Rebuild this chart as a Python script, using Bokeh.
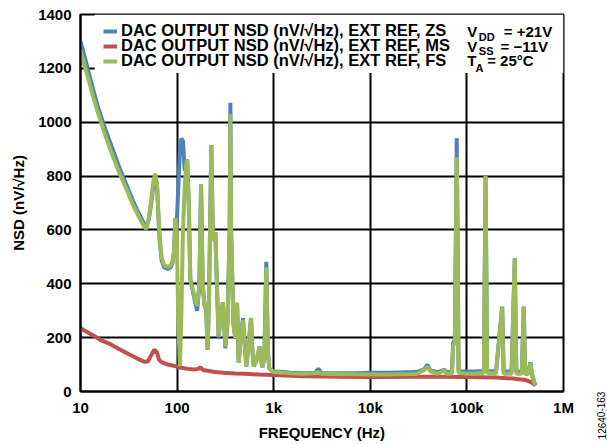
from bokeh.plotting import figure
from bokeh.models import FixedTicker, Legend, LegendItem, Label
from bokeh.embed import file_html
from bokeh.resources import INLINE

# ---------------- data ----------------
freq_hz = [10, 11, 12, 13.5, 15, 17.5, 20, 25, 30, 35, 40, 45, 48, 51, 54, 57, 59.5, 62, 64, 66,
           69, 73, 80, 86, 90, 93, 96, 99, 103, 107, 111, 115, 120, 124, 127, 132, 137, 148, 161, 170,
           177, 184, 192, 200, 207, 214, 226, 235, 249, 258, 269, 282, 298, 316, 332, 350, 356, 362, 383, 400,
           418, 434, 455, 481, 500, 521, 550, 583, 600, 621, 670, 716, 760, 800, 838, 870, 900, 1000, 1200, 1500,
           2000, 2700, 2900, 3100, 5000, 7000, 10000, 15000, 20000, 30000, 36000, 39000, 42000, 50000, 58000, 62000, 70000, 72000, 75000, 77000,
           78500, 80000, 82000, 100000, 120000, 150000, 156000, 162000, 200000, 232000, 240000, 290000, 313000, 325000, 370000, 388000, 400000, 430000, 455000, 475000,
           500000, 515000]

nsd_zs = [1300, 1245, 1192, 1122, 1062, 988, 930, 836, 766, 707, 662, 627, 610, 640, 700, 768, 798, 760, 655, 562,
          490, 462, 455, 462, 480, 520, 640, 620, 760, 900, 940, 930, 820, 840, 862, 700, 420, 360, 300, 390,
          770, 400, 320, 305, 155, 350, 915, 560, 590, 400, 200, 280, 330, 160, 250, 600, 1072, 600, 250, 200,
          329, 106, 200, 272, 180, 93, 180, 273, 160, 93, 120, 167, 90, 120, 482, 150, 85, 74, 73, 70,
          68, 70, 85, 68, 68, 68, 70, 70, 71, 72, 82, 100, 78, 72, 80, 72, 72, 180, 190, 600,
          940, 600, 74, 74, 74, 76, 800, 76, 74, 315, 74, 74, 495, 74, 72, 315, 72, 70, 108, 60,
          32, 28]

nsd_fs = [1268, 1212, 1163, 1096, 1040, 966, 906, 815, 750, 692, 650, 616, 603, 642, 712, 785, 808, 772, 665, 572,
          500, 470, 462, 470, 486, 526, 645, 600, 250, 93, 300, 600, 760, 840, 860, 700, 414, 366, 318, 400,
          770, 400, 322, 306, 155, 350, 915, 560, 590, 400, 204, 280, 330, 167, 250, 600, 1030, 600, 250, 200,
          329, 106, 200, 266, 180, 93, 180, 273, 160, 93, 120, 167, 90, 120, 460, 150, 85, 72, 71, 68,
          66, 68, 72, 66, 64, 64, 63, 63, 64, 65, 80, 92, 75, 66, 78, 66, 66, 170, 180, 600,
          870, 600, 70, 66, 66, 70, 800, 70, 66, 315, 66, 66, 495, 66, 66, 315, 66, 64, 105, 60,
          30, 26]

freq_ms = [10, 13, 16, 20, 25, 30, 40, 46, 50, 54, 58, 62, 65, 70, 80, 100, 110, 130, 150, 165,
           174, 185, 200, 250, 300, 400, 500, 700, 1000, 2000, 5000, 10000, 30000, 50000, 100000, 200000, 300000, 400000, 460000, 500000,
           515000]
nsd_ms = [235, 212, 192, 177, 158, 143, 120, 110, 112, 135, 155, 145, 118, 108, 100, 93, 88, 84, 82, 84,
          90, 80, 78, 72, 70, 67, 66, 63, 61, 57, 55, 54, 55, 55, 54, 52, 48, 43, 35, 27,
          22]

series_labels = ["DAC OUTPUT NSD (nV/\u221aHz), EXT REF, ZS",
                 "DAC OUTPUT NSD (nV/\u221aHz), EXT REF, MS",
                 "DAC OUTPUT NSD (nV/\u221aHz), EXT REF, FS"]
series_colors = ["#4F81BD", "#C0504D", "#9BBB59"]

x_ticks = [10, 100, 1000, 10000, 100000, 1000000]
x_tick_labels = ["10", "100", "1k", "10k", "100k", "1M"]
y_ticks = [0, 200, 400, 600, 800, 1000, 1200, 1400]

FONT = "Liberation Sans"

p = figure(width=607, height=444, x_axis_type="log",
           x_range=(10, 1000000), y_range=(0, 1400),
           output_backend="svg", toolbar_location=None,
           min_border_left=80, min_border_right=44,
           min_border_top=14, min_border_bottom=53)

p.background_fill_color = "white"
p.border_fill_color = "white"
p.outline_line_color = "black"
p.outline_line_width = 2

# white panel behind the legend / conditions text (covers the grid there)
p.quad(left=[14], right=[1000000], bottom=[1183], top=[1400],
       fill_color="white", line_color=None)

r_zs = p.line(freq_hz, nsd_zs, line_color=series_colors[0], line_width=4)
r_ms = p.line(freq_ms, nsd_ms, line_color=series_colors[1], line_width=4)
r_fs = p.line(freq_hz, nsd_fs, line_color=series_colors[2], line_width=4)

# axes
p.xaxis.ticker = FixedTicker(ticks=x_ticks)
p.xaxis.major_label_overrides = {t: l for t, l in zip(x_ticks, x_tick_labels)}
p.yaxis.ticker = FixedTicker(ticks=y_ticks)
for ax in (p.xaxis, p.yaxis):
    ax.major_tick_in = 0
    ax.major_tick_out = 0
    ax.minor_tick_in = 0
    ax.minor_tick_out = 0
    ax.axis_line_color = "black"
    ax.axis_line_width = 2
    ax.major_label_text_font = FONT
    ax.major_label_text_font_style = "bold"
    ax.major_label_text_font_size = "15px"
    ax.major_label_text_color = "black"
    ax.axis_label_text_font = FONT
    ax.axis_label_text_font_style = "bold"
    ax.axis_label_text_font_size = "15px"
    ax.axis_label_text_color = "black"

p.xaxis.axis_label = "FREQUENCY (Hz)"
p.yaxis.axis_label = "NSD (nV/\u221aHz)"
p.xaxis.major_label_standoff = 7
p.xaxis.axis_label_standoff = 5
p.yaxis.major_label_standoff = 9
p.yaxis.axis_label_standoff = 8

p.xgrid.grid_line_color = "black"
p.xgrid.grid_line_width = 2
p.ygrid.grid_line_color = "black"
p.ygrid.grid_line_width = 2

# legend: one single-item legend per row so the rows sit as tightly as in the reference
legend_rows_y = [351, 336, 321]   # bottom of each row, px above the frame bottom
for lbl, rend, ly in zip(series_labels, [r_zs, r_ms, r_fs], legend_rows_y):
    lg = Legend(items=[LegendItem(label=lbl, renderers=[rend])],
                location=(23, ly), orientation="vertical",
                background_fill_alpha=0, border_line_alpha=0,
                padding=0, margin=0, spacing=0,
                glyph_width=14, glyph_height=14, label_height=14,
                label_standoff=4,
                label_text_font=FONT, label_text_font_style="bold",
                label_text_font_size="16.5px", label_text_color="black")
    p.add_layout(lg)

# conditions text (with subscripts)
def lab(x, y, text, size):
    p.add_layout(Label(x=x, y=y, text=text, text_font=FONT, text_font_style="bold",
                       text_font_size=size, text_color="black",
                       text_align="left", text_baseline="alphabetic"))

lab(100700, 1336, "V", "15px")
lab(132800, 1318, "DD", "11px")
lab(241000, 1336, "= +21V", "15px")
lab(100700, 1283, "V", "15px")
lab(132800, 1263, "SS", "11px")
lab(222800, 1283, "= \u221211V", "15px")
lab(100700, 1228, "T", "15px")
lab(122700, 1200, "A", "11px")
lab(162000, 1228, "= 25\u00b0C", "15px")

# figure id, placed in the right-hand side panel
p.add_layout(Label(x=38, y=-24, x_units="screen", y_units="screen",
                   text="12640-163", angle=1.5708,
                   text_font=FONT, text_font_size="10px", text_color="black",
                   text_align="center", text_baseline="middle"), "right")

open("out.html", "w").write(file_html(p, INLINE))
